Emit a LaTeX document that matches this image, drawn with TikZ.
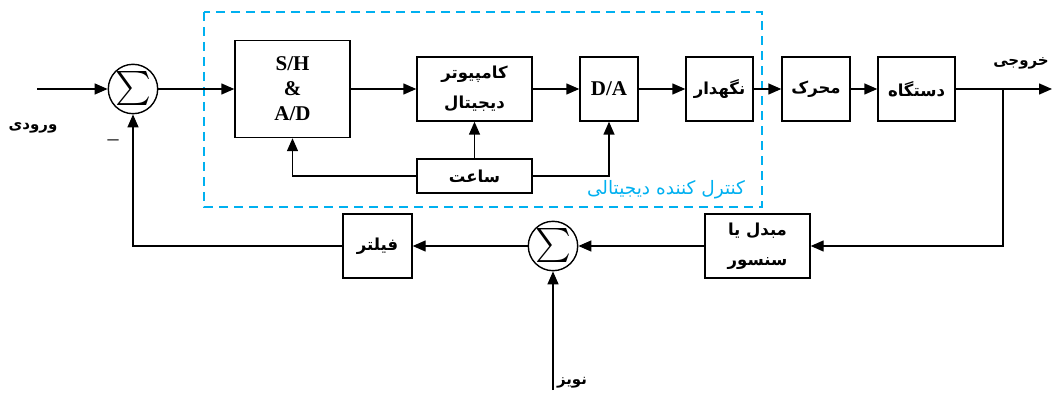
\documentclass[tikz,border=0pt]{standalone}
\usepackage{fontspec}
\usepackage{graphicx}
\setmainfont{Liberation Serif}
\newfontfamily\fa[Script=Arabic]{DejaVu Sans}
\TeXXeTstate=1
\usetikzlibrary{arrows.meta}
\definecolor{ctrlblue}{RGB}{0,176,240}
\newcommand\fatxt[1]{{\fa\beginR #1\endR}}
\begin{document}
\begin{tikzpicture}[x=1pt,y=1pt,
  blk/.style={draw,line width=1.4pt,inner sep=0pt,align=center,
    font=\fontsize{16.5}{30}\selectfont\bfseries},
  sumnode/.style={draw,line width=1.4pt,circle,minimum size=48pt,inner sep=0pt},
  arr/.style={line width=1.4pt,-{Triangle[length=13pt,width=11pt]}},
  lbl/.style={font=\fontsize{15}{16}\selectfont\bfseries}]
   \useasboundingbox (0,0) rectangle (1052,394);
   \begin{scope}[yscale=-1,shift={(0,-394)}]
   % digital controller frame
   \draw[color=ctrlblue,line width=1.4pt,dash pattern=on 9pt off 6pt]
     (204,12) rectangle (762,207);
   \node[color=ctrlblue,font=\fontsize{18.5}{20}\selectfont] (ctrl) at (666,190)
     {\fatxt{کنترل کننده دیجیتالی}};
   % blocks
   \node[sumnode] (sum1) at (133,89) {\scalebox{3.4}{$\sum$}};
   \node[blk,minimum width=115pt,minimum height=97pt,
     font=\fontsize{21}{25}\selectfont\bfseries] (sh) at (292.5,89) {S/H\\\&\\A/D};
   \node[blk,minimum width=115pt,minimum height=64pt] (comp) at (474.5,89)
     {\fatxt{کامپیوتر}\\\fatxt{دیجیتال}};
   \node[blk,minimum width=58pt,minimum height=64pt,
     font=\fontsize{21}{20}\selectfont\bfseries] (da) at (609,89) {D/A};
   \node[blk,minimum width=67pt,minimum height=64pt] (hold) at (719.5,89) {\fatxt{نگهدار}};
   \node[blk,minimum width=68pt,minimum height=64pt] (motor) at (816,89) {\fatxt{محرک}};
   \node[blk,minimum width=77pt,minimum height=64pt] (plant) at (916.5,89) {\fatxt{دستگاه}};
   \node[blk,minimum width=115pt,minimum height=34pt] (clock) at (474.5,176) {\fatxt{ساعت}};
   \node[blk,minimum width=105pt,minimum height=64pt] (sensor) at (757.5,246)
     {\fatxt{مبدل یا}\\\fatxt{سنسور}};
   \node[sumnode] (sum2) at (553,246) {\scalebox{3.4}{$\sum$}};
   \node[blk,minimum width=69pt,minimum height=64pt] (filter) at (377.5,246) {\fatxt{فیلتر}};
   % free ends
   \coordinate (in) at (37,89);
   \coordinate (out) at (1052,89);
   \coordinate (branch) at (1003,89);
   \coordinate (noise) at (553,390);
   % labels
   \node[lbl] (inlbl) at (33,128) {\fatxt{ورودی}};
   \node[lbl] (outlbl) at (1021,63) {\fatxt{خروجی}};
   \node[lbl] (noiselbl) at (572,383) {\fatxt{نویز}};
   \node[font=\fontsize{22}{22}\selectfont] (minus) at (113,143) {--};
   % forward path
   \draw[arr] (in) -- (sum1);
   \draw[arr] (sum1) -- (sh);
   \draw[arr] (sh) -- (comp);
   \draw[arr] (comp) -- (da);
   \draw[arr] (da) -- (hold);
   \draw[arr] (hold) -- (motor);
   \draw[arr] (motor) -- (plant);
   \draw[arr] (plant) -- (out);
   % clock
   \draw[arr] (clock) -- (comp);
   \draw[arr] (clock.west) -| (sh.south);
   \draw[arr] (clock.east) -| (da.south);
   % feedback path
   \draw[arr] (branch) |- (sensor.east);
   \draw[arr] (sensor) -- (sum2);
   \draw[arr] (sum2) -- (filter);
   \draw[arr] (filter.west) -| (sum1.south);
   \draw[arr] (noise) -- (sum2);
   \end{scope}
\end{tikzpicture}
\end{document}
